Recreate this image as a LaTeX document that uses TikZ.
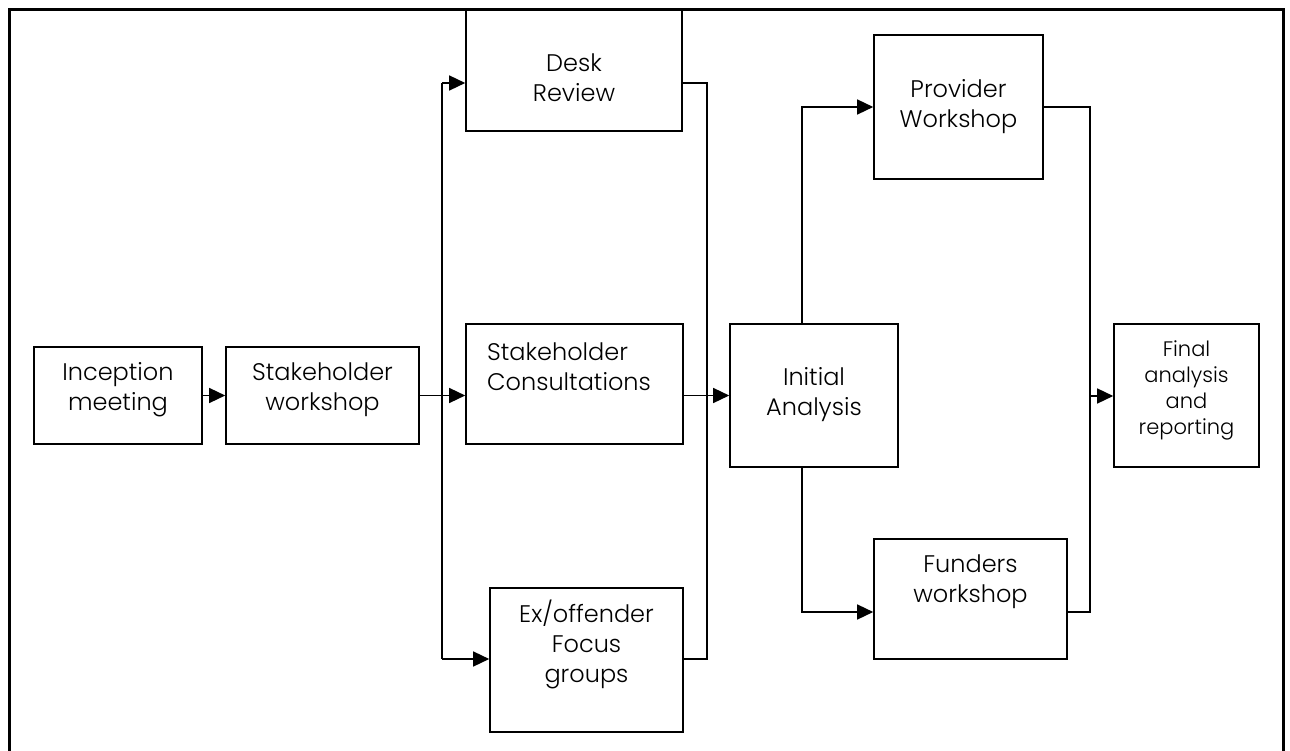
\documentclass[tikz,border=0pt]{standalone}
\usepackage{fontspec}
\setmainfont{Poppins Light}
\usetikzlibrary{arrows.meta}
\begin{document}
\begin{tikzpicture}[x=1pt,y=-1pt,
  box/.style={draw,line width=1.6pt,inner sep=0pt},
  txt/.style={font=\fontsize{24}{30}\selectfont,align=center,inner sep=0pt},
  smalltxt/.style={font=\fontsize{21}{26}\selectfont,align=center,inner sep=0pt},
  arr/.style={line width=1.4pt,-{Triangle[length=16pt,width=15pt]}},
  ln/.style={line width=1.4pt}]
\useasboundingbox (0,0) rectangle (1290,751);
\draw[line width=3pt] (9,751) -- (9,10) -- (1283,10) -- (1283,751);

% boxes
\node[box,minimum width=168pt,minimum height=97pt] (incep) at (118,395.5) {};
\node[box,minimum width=193pt,minimum height=97pt] (swork) at (322.5,395.5) {};
\node[box,minimum width=216pt,minimum height=121pt] (desk) at (574,70.5) {};
\node[box,minimum width=217pt,minimum height=120pt] (consult) at (574.5,384) {};
\node[box,minimum width=193pt,minimum height=144pt] (exo) at (586.5,660) {};
\node[box,minimum width=168pt,minimum height=143pt] (init) at (814,395.5) {};
\node[box,minimum width=169pt,minimum height=144pt] (prov) at (958.5,107) {};
\node[box,minimum width=193pt,minimum height=120pt] (fund) at (970.5,599) {};
\node[box,minimum width=145pt,minimum height=143pt] (final) at (1186.5,395.5) {};

% texts
\node[txt] (incep-t) at (118,390) {Inception\\meeting};
\node[txt] (swork-t) at (322.5,390) {Stakeholder\\workshop};
\node[txt] (desk-t) at (574,78) {Desk\\Review};
\node[txt,align=left,anchor=west] (consult-t) at (487,367) {Stakeholder\\Consultations};
\node[txt] (exo-t) at (586.5,644) {Ex/offender\\Focus\\groups};
\node[txt] (init-t) at (814,395) {Initial\\Analysis};
\node[txt] (prov-t) at (958.5,107) {Provider\\Workshop};
\node[txt] (fund-t) at (970.5,582) {Funders\\workshop};
\node[smalltxt] (final-t) at (1186.5,390) {Final\\analysis\\and\\reporting};

% connectors
\draw[arr] (incep.east) -- (swork.west);
\coordinate (blt) at (442,83);
\coordinate (blb) at (442,659);
\draw[ln] (blt) -- (blb);
\draw[arr] (swork.east) -- (consult.west |- swork.east);
\draw[arr] (blt) -- (desk.west |- blt);
\draw[arr] (blb) -- (exo.west |- blb);
\coordinate (brt) at (707,83);
\coordinate (brb) at (707,659);
\draw[ln] (desk.east |- brt) -- (brt) -- (brb) -- (exo.east |- brb);
\draw[arr] (consult.east |- swork.east) -- (init.west |- swork.east);
\coordinate (iu) at (802,107);
\coordinate (id) at (802,612);
\draw[arr] (iu |- init.north) -- (iu) -- (prov.west |- iu);
\draw[arr] (id |- init.south) -- (id) -- (fund.west |- id);
\coordinate (rt) at (1090,107);
\coordinate (rb) at (1090,612);
\coordinate (rm) at (1090,396);
\draw[ln] (prov.east |- rt) -- (rt) -- (rb) -- (fund.east |- rb);
\draw[arr] (rm) -- (final.west |- rm);
\end{tikzpicture}
\end{document}
